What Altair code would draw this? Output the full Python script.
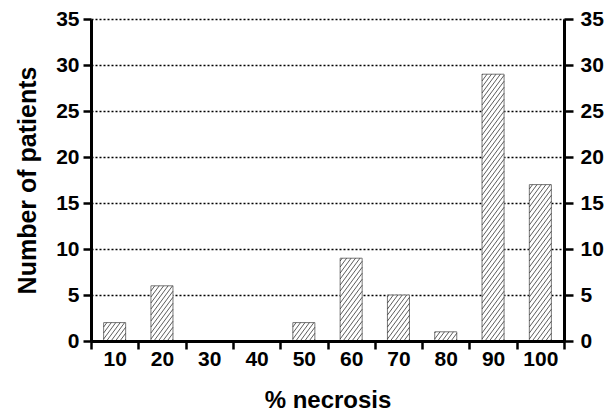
import altair as alt
import pandas as pd
import numpy as np

# ---- data ----
necrosis = [10, 20, 30, 40, 50, 60, 70, 80, 90, 100]
patients = [2, 6, 0, 0, 2, 9, 5, 1, 29, 17]
y_ticks = [0, 5, 10, 15, 20, 25, 30, 35]

# ---- layout / style ----
W, H = 473, 322
X_MIN, X_MAX = 5, 105
Y_MAX = 35
HALF = 2.33  # half bar width in x units
FONT = "Liberation Sans"

bars = pd.DataFrame({"necrosis": necrosis, "patients": patients})
bars["x0"] = bars["necrosis"] - HALF
bars["x1"] = bars["necrosis"] + HALF
bars["base"] = 0
bars = bars[bars["patients"] > 0]

# hatch lines derived from each bar's value
px_x = W / (X_MAX - X_MIN)
px_y = H / Y_MAX
slope, spacing, phase = 1.35, 6.0, 2.0
rows = []
for n, p in zip(necrosis, patients):
    if p <= 0:
        continue
    w = 2 * HALF * px_x
    h = p * px_y
    k0 = int(np.floor(-slope * w / spacing)) - 1
    k1 = int(np.ceil(h / spacing)) + 1
    for k in range(k0, k1 + 1):
        b = k * spacing + phase
        xl = max(0.0, -b / slope)
        xh = min(w, (h - b) / slope)
        if xh - xl > 0.4:
            rows.append(dict(hx=n - HALF + xl / px_x, hx2=n - HALF + xh / px_x,
                             hy=(slope * xl + b) / px_y, hy2=(slope * xh + b) / px_y))
hatch = pd.DataFrame(rows)

xscale = alt.Scale(domain=[X_MIN, X_MAX], nice=False, zero=False)
yscale = alt.Scale(domain=[0, Y_MAX], nice=False)

xaxis = alt.Axis(
    values=list(range(5, 106, 5)),
    labelExpr="datum.value % 10 == 0 ? datum.label : ''",
    tickColor={"condition": {"test": "datum.value % 10 == 0", "value": "transparent"}, "value": "black"},
    tickSize=8, tickWidth=2.5, domainWidth=3, domainColor="black",
    labelFont=FONT, labelFontSize=21, labelFontWeight="bold", labelColor="black",
    labelPadding=-1, labelOverlap=False, labelFlush=False,
    title="% necrosis", titleFont=FONT, titleFontSize=24, titleFontWeight="bold",
    titleColor="black", titlePadding=19, grid=False, zindex=1,
)

def yaxis(orient, grid):
    kw = dict(
        orient=orient, values=y_ticks, tickWidth=2.5, domainWidth=3,
        domainColor="black", tickColor="black",
        labelFont=FONT, labelFontSize=21, labelFontWeight="bold", labelColor="black",
        grid=grid,
    )
    if grid:
        kw.update(tickSize=8, labelPadding=4,
                  gridDash=[2, 2], gridColor="black", gridWidth=1.3, gridOpacity=1,
                  title="Number of patients", titleFont=FONT, titleFontSize=25,
                  titleFontWeight="bold", titleColor="black", titlePadding=15, zindex=0)
    else:
        kw.update(tickSize=9, labelPadding=7, title=None, zindex=1)
    return alt.Axis(**kw)

bar_layer = alt.Chart(bars).mark_rect(fill="white", stroke="#777777", strokeWidth=1).encode(
    x=alt.X("x0:Q", scale=xscale, axis=xaxis),
    x2="x1:Q",
    y=alt.Y("patients:Q", scale=yscale, axis=yaxis("left", True)),
    y2="base:Q",
)

hatch_layer = alt.Chart(hatch).mark_rule(color="#333333", strokeWidth=0.8).encode(
    x=alt.X("hx:Q", scale=xscale, axis=xaxis),
    x2="hx2:Q",
    y=alt.Y("hy:Q", scale=yscale, axis=yaxis("right", False)),
    y2="hy2:Q",
)

chart = (
    alt.layer(bar_layer, hatch_layer)
    .resolve_axis(y="independent")
    .properties(width=W, height=H, padding={"left": 7, "top": 0, "right": 0, "bottom": 0})
    .configure_view(stroke=None)
)

chart.save("out.html", embed_options={"renderer": "svg", "actions": False})
